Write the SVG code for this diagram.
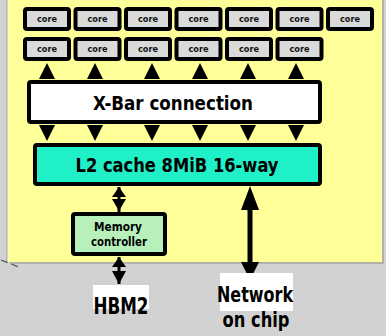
<svg xmlns="http://www.w3.org/2000/svg" width="386" height="336" viewBox="0 0 386 336">
<style>
.core rect{fill:#dadada;stroke:#000;stroke-width:4}
.core text{font-family:"DejaVu Sans Condensed","DejaVu Sans",sans-serif;font-weight:bold;font-size:9.5px;text-anchor:middle;fill:#111}
.lbl{font-family:"DejaVu Sans Condensed","DejaVu Sans",sans-serif;font-weight:bold;text-anchor:middle;fill:#000}
.box{stroke:#000;stroke-width:4}
.ar{fill:#000}
</style>
<rect x="0" y="0" width="386" height="336" fill="#d2d2d2"/>
<line x1="6.5" y1="0" x2="6.5" y2="262" stroke="#b8b8b8" stroke-width="1"/>
<rect x="10" y="-4" width="374" height="268" fill="#b2b2a8"/>
<rect x="8" y="-6" width="374" height="268" fill="#ffff99"/>
<line x1="1" y1="260" x2="19" y2="267" stroke="#555" stroke-width="1.3" stroke-dasharray="7,4"/>
<g id="cores">
<g id="core-1-1" class="core"><rect x="25" y="9" width="44" height="20" rx="2"/><text x="47" y="22" textLength="20" lengthAdjust="spacingAndGlyphs">core</text></g>
<g id="core-1-2" class="core"><rect x="75.5" y="9" width="44" height="20" rx="2"/><text x="97.5" y="22" textLength="20" lengthAdjust="spacingAndGlyphs">core</text></g>
<g id="core-1-3" class="core"><rect x="126" y="9" width="44" height="20" rx="2"/><text x="148" y="22" textLength="20" lengthAdjust="spacingAndGlyphs">core</text></g>
<g id="core-1-4" class="core"><rect x="176.5" y="9" width="44" height="20" rx="2"/><text x="198.5" y="22" textLength="20" lengthAdjust="spacingAndGlyphs">core</text></g>
<g id="core-1-5" class="core"><rect x="227" y="9" width="44" height="20" rx="2"/><text x="249" y="22" textLength="20" lengthAdjust="spacingAndGlyphs">core</text></g>
<g id="core-1-6" class="core"><rect x="277.5" y="9" width="44" height="20" rx="2"/><text x="299.5" y="22" textLength="20" lengthAdjust="spacingAndGlyphs">core</text></g>
<g id="core-1-7" class="core"><rect x="328" y="9" width="44" height="20" rx="2"/><text x="350" y="22" textLength="20" lengthAdjust="spacingAndGlyphs">core</text></g>
<g id="core-2-1" class="core"><rect x="25" y="39" width="44" height="20" rx="2"/><text x="47" y="52" textLength="20" lengthAdjust="spacingAndGlyphs">core</text></g>
<g id="core-2-2" class="core"><rect x="75.5" y="39" width="44" height="20" rx="2"/><text x="97.5" y="52" textLength="20" lengthAdjust="spacingAndGlyphs">core</text></g>
<g id="core-2-3" class="core"><rect x="126" y="39" width="44" height="20" rx="2"/><text x="148" y="52" textLength="20" lengthAdjust="spacingAndGlyphs">core</text></g>
<g id="core-2-4" class="core"><rect x="176.5" y="39" width="44" height="20" rx="2"/><text x="198.5" y="52" textLength="20" lengthAdjust="spacingAndGlyphs">core</text></g>
<g id="core-2-5" class="core"><rect x="227" y="39" width="44" height="20" rx="2"/><text x="249" y="52" textLength="20" lengthAdjust="spacingAndGlyphs">core</text></g>
<g id="core-2-6" class="core"><rect x="277.5" y="39" width="44" height="20" rx="2"/><text x="299.5" y="52" textLength="20" lengthAdjust="spacingAndGlyphs">core</text></g>
</g>
<g id="connectors">
<g class="ar">
<polygon points="47,63 39,79 55,79"/><polygon points="95,63 87,79 103,79"/><polygon points="152,63 144,79 160,79"/>
<polygon points="200,63 192,79 208,79"/><polygon points="248,63 240,79 256,79"/><polygon points="296,63 288,79 304,79"/>
<polygon points="39,125 55,125 47,141"/><polygon points="87,125 103,125 95,141"/><polygon points="144,125 160,125 152,141"/>
<polygon points="192,125 208,125 200,141"/><polygon points="240,125 256,125 248,141"/><polygon points="288,125 304,125 296,141"/>
<line x1="119" y1="187" x2="119" y2="212" stroke="#000" stroke-width="3"/>
<polygon points="119,187 112,197 126,197"/><polygon points="112,199 126,199 119,211"/>
<line x1="119" y1="257" x2="119" y2="284" stroke="#000" stroke-width="3"/>
<polygon points="119,257 112,267 126,267"/><polygon points="112,271 126,271 119,284"/>
<line x1="250" y1="205" x2="250" y2="266" stroke="#000" stroke-width="5"/>
<polygon points="250,186 241,210 259,210"/><polygon points="241,262 259,262 250,280"/>
</g>
</g>
<g id="xbar"><rect class="box" x="29" y="82" width="291" height="40" rx="2" fill="#fff"/><text class="lbl" x="173" y="110" font-size="20" textLength="160" lengthAdjust="spacingAndGlyphs">X-Bar connection</text></g>
<g id="l2"><rect class="box" x="35" y="145" width="285" height="39" rx="2" fill="#1ff0c8"/><text class="lbl" x="177" y="172" font-size="20" textLength="203" lengthAdjust="spacingAndGlyphs">L2 cache 8MiB 16-way</text></g>
<g id="memctrl"><rect class="box" x="73" y="214" width="92" height="40" rx="2" fill="#b8f0bc"/><text class="lbl" x="118" y="231" font-size="12" textLength="48" lengthAdjust="spacingAndGlyphs">Memory</text><text class="lbl" x="119" y="246" font-size="12" textLength="56" lengthAdjust="spacingAndGlyphs">controller</text></g>
<g id="hbm2"><rect x="93" y="285" width="56" height="24" fill="#fff"/><text class="lbl" x="121" y="314" font-size="23" textLength="55" lengthAdjust="spacingAndGlyphs">HBM2</text></g>
<g id="noc"><rect x="220" y="273" width="73" height="38" fill="#fff"/><text class="lbl" x="255" y="302" font-size="22" textLength="76" lengthAdjust="spacingAndGlyphs">Network</text><text class="lbl" x="256" y="327" font-size="22" textLength="67" lengthAdjust="spacingAndGlyphs">on chip</text></g>
</svg>
